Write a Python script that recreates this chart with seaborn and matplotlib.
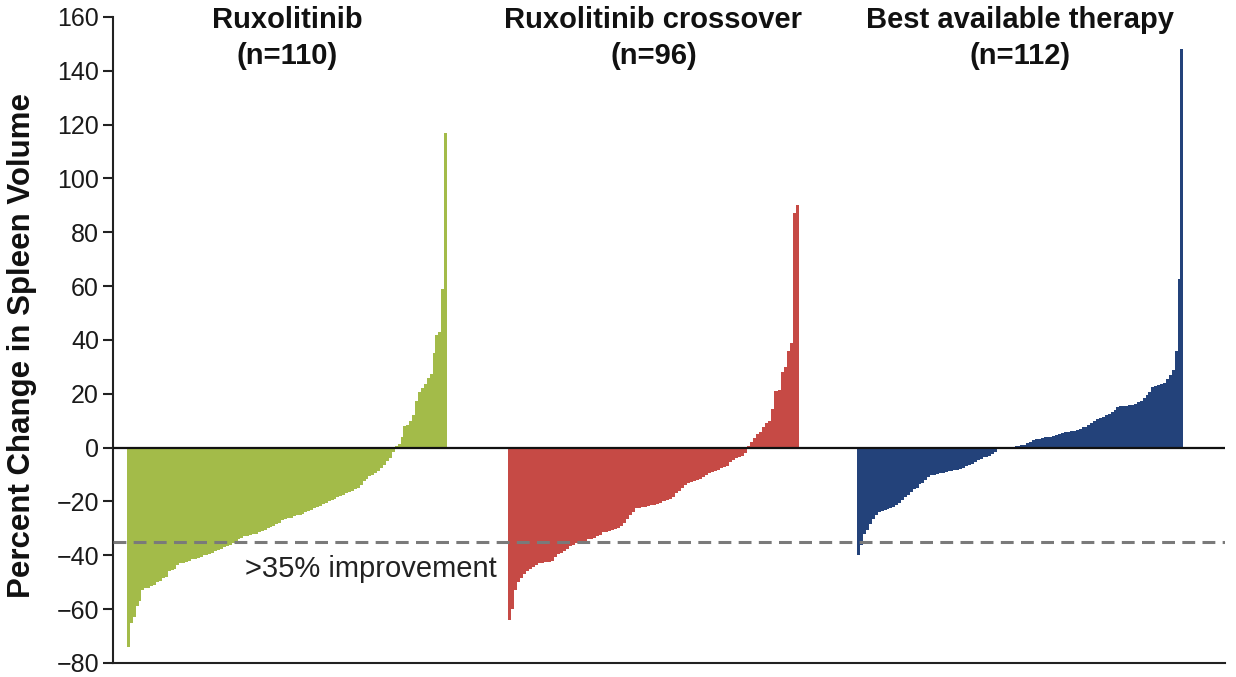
import numpy as np
import pandas as pd
import matplotlib
matplotlib.use("Agg")
import matplotlib.pyplot as plt
import seaborn as sns

# Per-patient percent change in spleen volume, sorted within each arm
groups = ["Ruxolitinib", "Ruxolitinib crossover", "Best available therapy"]
group_n = [110, 96, 112]

ruxolitinib = [
    -74, -65, -63, -59, -57, -53, -52, -52, -51.5, -51,
    -50, -49.5, -48.5, -48, -46, -45.5, -45, -43.5, -43, -43,
    -42.5, -42, -41.5, -41.5, -41, -40.5, -40, -40, -39.5, -39,
    -38.5, -38, -37.5, -37, -36.5, -36, -35.5, -35, -34, -33.5,
    -33, -33, -32.5, -32, -32, -31.5, -31, -30.5, -30, -29.5,
    -29, -28.5, -28, -27, -26.5, -26, -26, -25.5, -25, -25,
    -24.5, -24, -23.5, -23, -22.5, -22, -21.5, -21, -20.5, -20,
    -19.5, -19, -18.5, -18, -17.5, -17, -16.5, -16, -15.5, -15,
    -14, -12.5, -11.5, -10.5, -10, -9.5, -8.8, -7.5, -6.5, -5,
    -4, -1.5,
    0.5, 1.5, 4, 8, 8.5, 10, 12, 17.5, 20.5, 22,
    23.5, 26, 27.5, 35, 42, 43, 59, 117,
]

crossover = [
    -64, -60, -53, -50, -48.5, -47, -46, -45, -44.5, -43.6,
    -43, -43, -42.5, -42.5, -42, -40.5, -39.5, -39, -38.5, -37.5,
    -36.5, -36, -35.5, -35, -34.5, -34.5, -34, -33.8, -33.5, -33,
    -32.5, -31.5, -31.3, -31, -30.5, -30.2, -30, -29, -28, -26.5,
    -25, -24, -22.5, -22.3, -22, -22, -21.6, -21.4, -21.2, -21,
    -20.5, -20, -19.5, -19, -18.5, -17, -16, -15, -13.8, -13,
    -12.6, -12.3, -12, -11.5, -11, -10, -9.5, -9, -8.7, -8.3,
    -7.7, -7.3, -7, -5.5, -4.5, -4, -3.3, -3, -2,
    0.5, 2, 3.5, 5, 6, 7.5, 9, 10, 14.5, 21,
    21.5, 28, 30, 36, 39, 87, 90,
]

best_available = [
    -40, -36, -32, -30.5, -28.5, -26.5, -25, -24, -23.5, -23,
    -22.7, -22.3, -22, -21.2, -20.5, -19.5, -18.5, -17.5, -16.5, -15.5,
    -15, -13.5, -13, -12.2, -11, -10.3, -10, -9.8, -9.5, -9.3,
    -9, -8.7, -8.5, -8.3, -8.2, -8, -7.4, -7, -6.4, -6,
    -5.5, -4.5, -4.2, -3.6, -3.4, -3, -2.5, -1.5, -0.6,
    -0.3, -0.2,
    0.1, 0.2, 0.3, 0.5, 0.5, 0.9, 1, 1.9, 2.2, 2.7,
    3.2, 3.4, 3.5, 3.8, 4, 4, 4.2, 4.6, 5, 5.5,
    5.8, 6, 6.2, 6.3, 6.5, 7, 7.5, 7.8, 8.5, 9,
    9.9, 10.5, 11.2, 11.5, 12, 12.5, 13.3, 14, 15, 15.3,
    15.5, 15.6, 15.8, 16, 16.3, 16.8, 17.5, 18.6, 19.5, 20.5,
    22.5, 22.8, 23.3, 23.6, 24, 25.5, 27, 29, 36, 62.5, 148,
]

yticks = list(range(-80, 161, 20))
threshold = -35
threshold_label = ">35% improvement"
ylabel = "Percent Change in Spleen Volume"

colors = ["#A3BB49", "#C64A45", "#23427A"]
group_starts = [0, 131, 251]    # first bar slot of each arm
group_steps = [1.0, 1.04, 1.0]  # slot spacing per arm

arm_values = [ruxolitinib, crossover, best_available]
frames = []
for name, vals, start, step in zip(groups, arm_values, group_starts, group_steps):
    frames.append(pd.DataFrame({
        "pos": start + step * np.arange(len(vals)),
        "change": vals,
        "arm": name,
    }))
df = pd.concat(frames, ignore_index=True)

sns.set_theme(style="ticks")
plt.rcParams["font.family"] = ["Liberation Sans", "DejaVu Sans"]

fig = plt.figure(figsize=(12.36, 6.77), dpi=100)
ax = fig.add_axes([0.0914, 0.0207, 0.8997, 0.9542])

sns.barplot(
    data=df, x="pos", y="change", hue="arm", hue_order=groups,
    palette=colors, saturation=1, native_scale=True, width=1.0, dodge=False,
    errorbar=None, linewidth=0, edgecolor="none", legend=False, ax=ax,
)

# crossover slots are slightly wider: widen those bars to fill them
crossover_lo = group_starts[1] - 0.5
crossover_hi = group_starts[1] + group_steps[1] * (len(crossover) - 1) + 0.6
for patch in ax.patches:
    cx = patch.get_x() + patch.get_width() / 2
    if crossover_lo <= cx <= crossover_hi:
        patch.set_x(cx - group_steps[1] / 2)
        patch.set_width(group_steps[1])

ax.set_xlim(-5.3, 376.8)
ax.set_ylim(-80, 160)
ax.set_yticks(yticks)
ax.set_xticks([])
ax.set_xlabel("")
ax.set_ylabel("")

for side in ["top", "right"]:
    ax.spines[side].set_visible(False)
for side in ["left", "bottom"]:
    ax.spines[side].set_linewidth(1.5)
    ax.spines[side].set_color("#222222")

ax.tick_params(axis="y", direction="out", length=7, width=1.5,
               color="#222222", labelsize=18, labelcolor="#1a1a1a", pad=3)

# zero baseline and response threshold
ax.axhline(0, color="#111111", lw=1.6, zorder=3)
ax.axhline(threshold, color="#7a7a7a", lw=2.2, dashes=(4.2, 2.4), zorder=4)
ax.text(40, -45, threshold_label, ha="left", va="center",
        fontsize=21, color="#222222", zorder=5)

# arm headers
for name, n, vals, start, step in zip(groups, group_n, arm_values,
                                      group_starts, group_steps):
    cx = start + step * (len(vals) - 1) / 2
    ax.text(cx, 159, name, ha="center", va="center",
            fontsize=21, fontweight="bold", color="#111111")
    ax.text(cx, 145.5, f"(n={n})", ha="center", va="center",
            fontsize=21, fontweight="bold", color="#111111")

fig.text(0.018, 0.49, ylabel, rotation=90, ha="center", va="center",
         fontsize=22.5, fontweight="bold", color="#111111")

fig.savefig("out.png", dpi=100)
